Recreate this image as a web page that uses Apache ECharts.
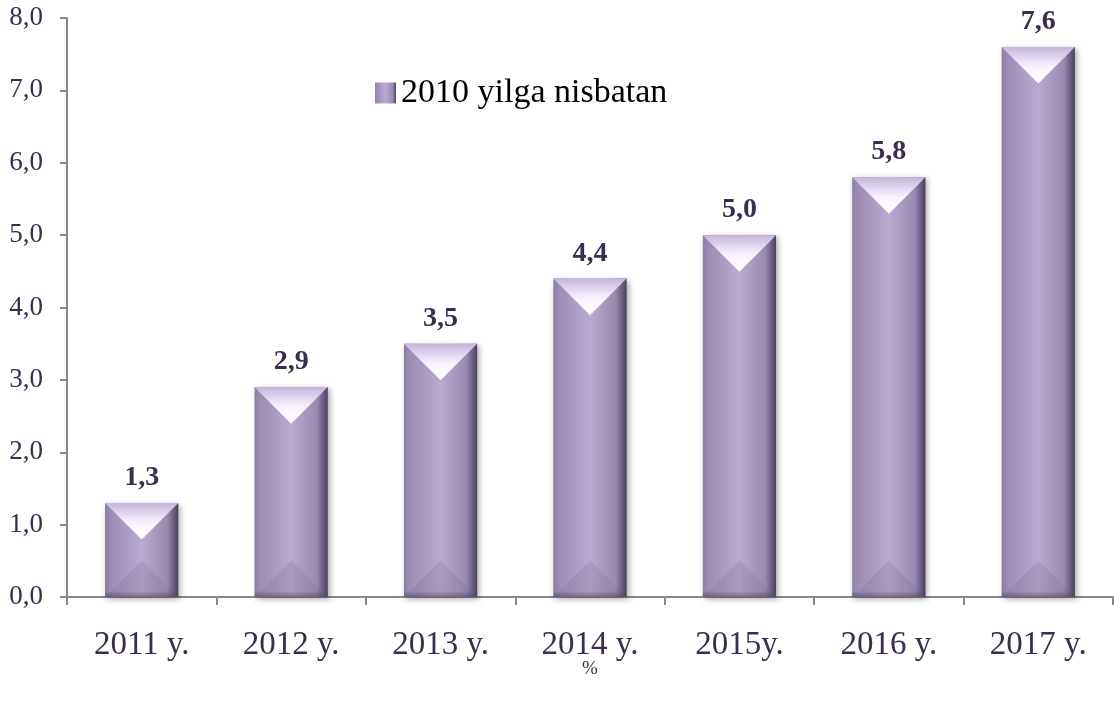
<!DOCTYPE html>
<html lang="en">

<head>
    <meta charset="UTF-8">
    <title>Chart</title>
    <script src="https://cdn.jsdelivr.net/npm/echarts@6/dist/echarts.min.js"></script>
    <style>
        html, body { margin: 0; padding: 0; background: #fff; }
    </style>
</head>

<body>
    <div id="main" style="width: 1114px;height:710px;"></div>
    <script type="text/javascript">
        // 数据
        const years = ['2011 y.', '2012 y.', '2013 y.', '2014 y.', '2015y.', '2016 y.', '2017 y.'];
        const values = [1.3, 2.9, 3.5, 4.4, 5.0, 5.8, 7.6];
        const seriesName = '2010 yilga nisbatan';
        const unitLabel = '%';

        const textColor = '#3b2d50';
        const axisColor = '#888888';
        const fontFamily = "'Liberation Serif', 'Times New Roman', serif";

        const myChart = echarts.init(document.getElementById('main'));

        // 柱子主体渐变（左右明暗）
        const barGradient = new echarts.graphic.LinearGradient(0, 0, 1, 0, [
            { offset: 0, color: '#8c7da3' },
            { offset: 0.08, color: '#9d8db6' },
            { offset: 0.5, color: '#baaad2' },
            { offset: 0.85, color: '#9a8ab2' },
            { offset: 1, color: '#4a3e5e' }
        ]);

        let option = {
            backgroundColor: '#ffffff',
            textStyle: { fontFamily: fontFamily },
            title: {
                text: unitLabel,
                left: 577,
                top: 655,
                textStyle: { color: textColor, fontSize: 19, fontWeight: 'normal', fontFamily: fontFamily }
            },
            legend: {
                left: 370,
                top: 71,
                itemWidth: 21,
                itemHeight: 21,
                itemGap: 5,
                icon: 'rect',
                data: [seriesName],
                textStyle: { color: '#000', fontSize: 34, fontFamily: fontFamily }
            },
            grid: {
                left: 67,
                right: 1,
                top: 18,
                bottom: 113
            },
            xAxis: {
                type: 'category',
                data: years,
                axisLine: { lineStyle: { color: axisColor, width: 2 } },
                axisTick: { show: true, length: 8, lineStyle: { color: axisColor, width: 2 } },
                axisLabel: { color: textColor, fontSize: 33, margin: 32, fontFamily: fontFamily }
            },
            yAxis: {
                type: 'value',
                min: 0,
                max: 8,
                interval: 1,
                axisLine: { show: true, lineStyle: { color: axisColor, width: 2 } },
                axisTick: { show: true, length: 7, lineStyle: { color: axisColor, width: 2 } },
                splitLine: { show: false },
                axisLabel: {
                    color: textColor,
                    fontSize: 27,
                    margin: 24,
                    fontFamily: fontFamily,
                    formatter: v => v.toFixed(1).replace('.', ',')
                }
            },
            series: [
                {
                    name: seriesName,
                    type: 'bar',
                    barWidth: '49%',
                    data: values,
                    itemStyle: {
                        color: barGradient,
                        shadowColor: 'rgba(0,0,0,0.35)',
                        shadowBlur: 6,
                        shadowOffsetX: 2,
                        shadowOffsetY: 2
                    },
                    label: {
                        show: true,
                        position: 'top',
                        distance: 11,
                        color: textColor,
                        fontSize: 28,
                        fontWeight: 'bold',
                        fontFamily: fontFamily,
                        formatter: p => p.value.toFixed(1).replace('.', ',')
                    },
                    z: 2
                },
                {
                    // 顶部和底部的斜面效果
                    name: 'bevel',
                    type: 'custom',
                    data: values,
                    silent: true,
                    z: 3,
                    renderItem: (params, api) => {
                        const w = api.size([1, 0])[0] * 0.49;
                        const top = api.coord([api.value(0), api.value(1)]);
                        const base = api.coord([api.value(0), 0]);
                        const cx = top[0];
                        const x0 = cx - w / 2;
                        const x1 = cx + w / 2;
                        const d = w / 2;
                        return {
                            type: 'group',
                            children: [
                                {
                                    type: 'polygon',
                                    shape: { points: [[x0, top[1]], [x1, top[1]], [cx, top[1] + d]] },
                                    style: {
                                        fill: new echarts.graphic.LinearGradient(0, 0, 0, 1, [
                                            { offset: 0, color: '#c6b5de' },
                                            { offset: 0.55, color: '#f8f4ff' },
                                            { offset: 1, color: '#ffffff' }
                                        ])
                                    }
                                },
                                {
                                    type: 'polygon',
                                    shape: { points: [[x0, base[1]], [x1, base[1]], [cx, base[1] - d]] },
                                    style: { fill: 'rgba(120,105,140,0.22)' }
                                },
                                {
                                    type: 'rect',
                                    shape: { x: x0, y: base[1] - 6, width: w, height: 6 },
                                    style: {
                                        fill: new echarts.graphic.LinearGradient(0, 0, 0, 1, [
                                            { offset: 0, color: 'rgba(80,66,100,0)' },
                                            { offset: 1, color: 'rgba(80,66,100,0.6)' }
                                        ])
                                    }
                                }
                            ]
                        };
                    }
                }
            ]
        };
        myChart.setOption(option);
    </script>
</body>

</html>
